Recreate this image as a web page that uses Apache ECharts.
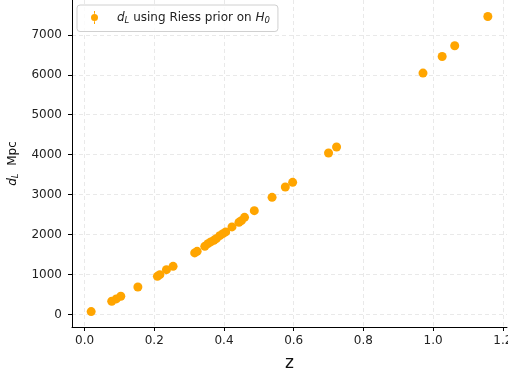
<!DOCTYPE html>
<html>
<head>
<meta charset="utf-8">
<script src="https://cdn.jsdelivr.net/npm/echarts@6/dist/echarts.min.js"></script>
<style>
html,body{margin:0;padding:0;background:#fff;}
#chart{width:508px;height:381px;}
</style>
</head>
<body>
<div id="chart"></div>
<script>
const redshift = [0.019, 0.078, 0.091, 0.104, 0.153, 0.209, 0.216, 0.235, 0.254,
  0.316, 0.323, 0.345, 0.354, 0.362, 0.371, 0.378, 0.388, 0.397, 0.405, 0.423,
  0.443, 0.450, 0.459, 0.487, 0.538, 0.576, 0.597, 0.700, 0.723, 0.971, 1.026, 1.062, 1.157];
const distance = [75, 333, 392, 458, 692, 958, 1000, 1125, 1208,
  1543, 1583, 1708, 1775, 1818, 1858, 1900, 1975, 2025, 2068, 2193,
  2308, 2350, 2433, 2600, 2933, 3193, 3308, 4042, 4192, 6042, 6458, 6725, 7458];
const xTicks = [0.0, 0.2, 0.4, 0.6, 0.8, 1.0, 1.2];
const yTicks = [0, 1000, 2000, 3000, 4000, 5000, 6000, 7000];
const seriesName = 'dL';

const points = redshift.map((z, i) => [z, distance[i]]);
const font = 'DejaVu Sans';
const chart = echarts.init(document.getElementById('chart'), null, {renderer: 'canvas'});
const gridLine = {show: true, lineStyle: {color: '#e3e3e3', type: [4, 3], width: 0.8}};
chart.setOption({
  animation: false,
  backgroundColor: '#fff',
  grid: {left: 72, right: 1, top: 0, bottom: 54, containLabel: false, outerBoundsMode: 'none'},
  legend: {
    left: 77, top: 5,
    padding: [6, 8, 6, 14],
    borderColor: '#d0d0d0', borderWidth: 1, borderRadius: 3,
    backgroundColor: 'rgba(255,255,255,0.8)',
    itemWidth: 7, itemHeight: 13,
    data: [{name: seriesName,
      icon: 'path://M3,0 H4 V2.8 H3 Z M3,10.2 H4 V13 H3 Z M0,6.5 A3.5,3.5 0 1 1 7,6.5 A3.5,3.5 0 1 1 0,6.5 Z'}],
    formatter: () => '{pad|}{i|d}{sub|L}{t| using Riess prior on }{i|H}{sub|0}',
    textStyle: {
      fontFamily: font, fontSize: 12, color: '#222',
      rich: {
        pad: {width: 14},
        i: {fontFamily: font, fontStyle: 'italic', fontSize: 12, color: '#222'},
        sub: {fontFamily: font, fontStyle: 'italic', fontSize: 8.5, color: '#222', padding: [7, 0, 0, 0]},
        t: {fontFamily: font, fontSize: 12, color: '#222'}
      }
    }
  },
  xAxis: {
    type: 'value', min: -0.036, max: 1.212,
    name: 'z', nameLocation: 'middle', nameGap: 28,
    nameTextStyle: {fontFamily: font, fontSize: 17, color: '#111'},
    axisLine: {show: true, onZero: false, lineStyle: {color: '#000', width: 1}},
    axisTick: {show: true, length: 4, customValues: xTicks, lineStyle: {color: '#000'}},
    axisLabel: {customValues: xTicks, margin: 8, fontFamily: font, fontSize: 12, color: '#222',
      formatter: v => v.toFixed(1)},
    splitLine: gridLine
  },
  yAxis: {
    type: 'value', min: -310, max: 7870,
    name: '{i|d}{sub|L}{t|  Mpc}', nameLocation: 'middle', nameGap: 46, nameRotate: 90,
    nameTextStyle: {fontFamily: font, fontSize: 12, color: '#111',
      rich: {
        i: {fontFamily: font, fontStyle: 'italic', fontSize: 12, color: '#111'},
        sub: {fontFamily: font, fontStyle: 'italic', fontSize: 8.5, color: '#111', padding: [7, 0, 0, 0]},
        t: {fontFamily: font, fontSize: 12, color: '#111'}
      }},
    axisLine: {show: true, onZero: false, lineStyle: {color: '#000', width: 1}},
    axisTick: {show: true, length: 4, customValues: yTicks, lineStyle: {color: '#000'}},
    axisLabel: {customValues: yTicks, margin: 10, fontFamily: font, fontSize: 12, color: '#222',
      formatter: v => String(v)},
    splitLine: gridLine
  },
  series: [{
    name: seriesName, type: 'scatter', data: points,
    symbol: 'circle', symbolSize: 9,
    itemStyle: {color: '#FFA500', opacity: 1}
  }]
});
</script>
</body>
</html>
